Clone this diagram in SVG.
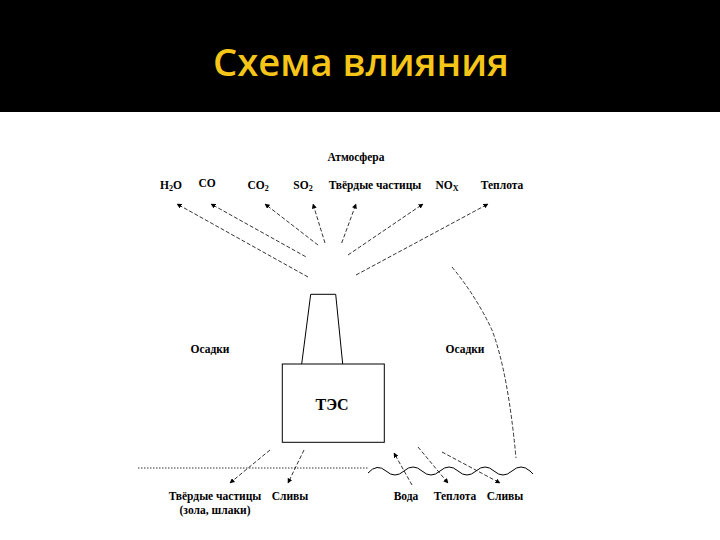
<svg xmlns="http://www.w3.org/2000/svg" width="720" height="540" viewBox="0 0 720 540">
<defs>
<marker id="ah" viewBox="0 0 10 10" refX="9" refY="5" markerWidth="5" markerHeight="5" orient="auto" markerUnits="userSpaceOnUse">
<path d="M0,0 L10,5 L0,10 z" fill="#000"/>
</marker>
<style>
.lbl{font-family:"Liberation Serif","Times New Roman",serif;font-weight:bold;font-size:11.5px;fill:#000;text-anchor:middle}
.sub{font-size:8px}
.arr{stroke:#000;stroke-width:0.8;stroke-dasharray:4,2;fill:none;marker-end:url(#ah)}
.ln{stroke:#000;stroke-width:1;fill:none}
.dl{stroke:#000;stroke-width:0.8;stroke-dasharray:4,2;fill:none}
</style>
</defs>
<rect x="0" y="0" width="720" height="540" fill="#fff"/>
<rect x="0" y="0" width="720" height="112" fill="#000"/>
<text x="361" y="76" font-family="'Open Sans','Noto Sans',sans-serif" font-weight="600" font-size="38" fill="#F5C518" text-anchor="middle" textLength="296" lengthAdjust="spacingAndGlyphs">Схема влияния</text>

<g id="atmosphere"><text class="lbl" x="356" y="161">Атмосфера</text></g>
<g id="h2o"><text class="lbl" x="171" y="189">H<tspan class="sub" dy="2">2</tspan><tspan dy="-2">O</tspan></text></g>
<g id="co"><text class="lbl" x="207" y="187">CO</text></g>
<g id="co2"><text class="lbl" x="258" y="189">CO<tspan class="sub" dy="2">2</tspan></text></g>
<g id="so2"><text class="lbl" x="303" y="189">SO<tspan class="sub" dy="2">2</tspan></text></g>
<g id="solids-air"><text class="lbl" x="375" y="189">Твёрдые частицы</text></g>
<g id="nox"><text class="lbl" x="447" y="189">NO<tspan class="sub" dy="2">X</tspan></text></g>
<g id="heat-air"><text class="lbl" x="502" y="189">Теплота</text></g>

<g id="precip-left"><text class="lbl" x="210" y="353">Осадки</text></g>
<g id="precip-right"><text class="lbl" x="465" y="353">Осадки</text></g>

<g id="tes">
<path class="ln" d="M301.7,364 L310.7,294.3 L335.7,294.3 L342.7,364"/>
<rect x="282.3" y="364" width="102" height="78.3" class="ln"/>
<text class="lbl" x="332" y="410" style="font-size:16px">ТЭС</text>
</g>

<g id="ground">
<line x1="138" y1="468" x2="368" y2="468" stroke="#000" stroke-width="0.8" stroke-dasharray="1.5,1.5"/>
<path class="ln" stroke-width="0.8" d="M368,473 Q377,463 386,471 Q395,479 404,471 Q413,463 422,471 Q431,479 440,471 Q449,463 458,471 Q467,479 476,471 Q485,463 494,471 Q503,479 512,471 Q521,463 530,471 L533,474"/>
</g>

<g id="solids-ground"><text class="lbl" x="215" y="500">Твёрдые частицы</text><text class="lbl" x="215" y="514">(зола, шлаки)</text></g>
<g id="drains-left"><text class="lbl" x="290" y="500">Сливы</text></g>
<g id="water"><text class="lbl" x="406" y="500">Вода</text></g>
<g id="heat-ground"><text class="lbl" x="455" y="500">Теплота</text></g>
<g id="drains-right"><text class="lbl" x="505" y="500">Сливы</text></g>

<g id="connectors">
<line class="arr" x1="308" y1="277" x2="177" y2="204"/>
<line class="arr" x1="305.7" y1="256.7" x2="211" y2="204"/>
<line class="arr" x1="318" y1="245" x2="265" y2="204"/>
<line class="arr" x1="325" y1="243" x2="313" y2="204"/>
<line class="arr" x1="341.7" y1="243" x2="356" y2="204"/>
<line class="arr" x1="348" y1="255" x2="423" y2="204"/>
<line class="arr" x1="356" y1="275" x2="488" y2="204"/>
<path class="dl" d="M452,267 Q476,296 492,330 Q508,372 516,458"/>
<line class="arr" x1="270" y1="450" x2="230" y2="483"/>
<line class="arr" x1="304" y1="450" x2="288" y2="483"/>
<line class="arr" x1="412" y1="485" x2="394" y2="453"/>
<line class="arr" x1="418" y1="447" x2="448" y2="483"/>
<line class="arr" x1="442" y1="452" x2="500" y2="483"/>
</g>
</svg>
